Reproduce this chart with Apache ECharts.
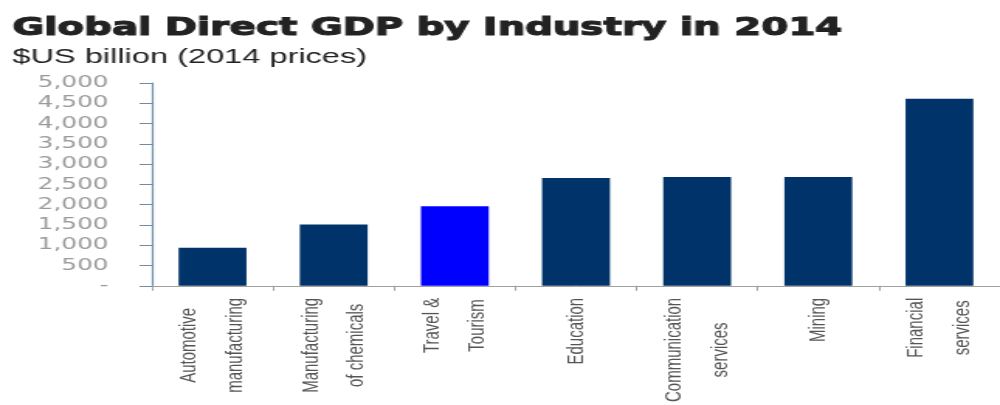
<!DOCTYPE html>
<html>
<head>
<meta charset="utf-8">
<script src="https://cdn.jsdelivr.net/npm/echarts@6/dist/echarts.min.js"></script>
<style>
  html, body { margin: 0; padding: 0; background: #fff; overflow: hidden; }
  #wrap { width: 1000px; height: 405px; overflow: hidden; }
  /* the chart is laid out narrow and widened horizontally */
  #chart { width: 645px; height: 405px; transform: scaleX(1.5504); transform-origin: 0 0; }
</style>
</head>
<body>
<div id="wrap"><div id="chart"></div></div>
<script>
// Global direct GDP by industry, 2014 ($US billion, 2014 prices)
const categories = [
  'Automotive\nmanufacturing',
  'Manufacturing\nof chemicals',
  'Travel &\nTourism',
  'Education',
  'Communication\nservices',
  'Mining',
  'Financial\nservices'
];
const gdpValues = [940, 1510, 1960, 2660, 2680, 2680, 4610];
const highlightCategory = 'Travel &\nTourism';
const yTicks = { min: 0, max: 5000, interval: 500 };

const NAVY = '#00336a';
const BLUE = '#0000ff';

const chart = echarts.init(document.getElementById('chart'));

chart.setOption({
  animation: false,
  title: [
    {
      text: 'Global Direct GDP by Industry in 2014',
      left: 8, top: 16, padding: 0,
      textStyle: {
        fontFamily: 'DejaVu Sans', fontWeight: 'bold', fontSize: 25, color: '#222',
        textBorderColor: '#222', textBorderWidth: 1.1
      }
    },
    {
      text: '$US billion (2014 prices)',
      left: 8, top: 47, padding: 0,
      textStyle: { fontFamily: 'Liberation Sans', fontWeight: 'normal', fontSize: 21, color: '#222' }
    }
  ],
  grid: { left: 98, right: -2, top: 83, bottom: 117, containLabel: false },
  xAxis: {
    type: 'category',
    data: categories,
    axisLine: { lineStyle: { color: '#a0a0a0', width: 1 } },
    axisTick: { show: true, length: 5, lineStyle: { color: '#a0a0a0' } },
    axisLabel: {
      rotate: 90,
      margin: 12,
      interval: 0,
      formatter: v => v.split('\n').map(s => '{c|' + s + '}').join('\n'),
      rich: {
        c: { align: 'center', fontFamily: 'Liberation Sans', fontSize: 15, lineHeight: 29.5, color: '#555' }
      }
    }
  },
  yAxis: {
    type: 'value',
    min: yTicks.min, max: yTicks.max, interval: yTicks.interval,
    splitLine: { show: false },
    axisLine: { show: true, lineStyle: { color: '#6f8ca6', width: 1.2 } },
    axisTick: { show: true, length: 8, lineStyle: { color: '#6f8ca6' } },
    axisLabel: {
      margin: 28,
      fontFamily: 'DejaVu Sans', fontSize: 16, color: '#9a9a9a',
      formatter: v => v === 0 ? '-' : v.toLocaleString('en-US')
    }
  },
  series: [{
    type: 'bar',
    barWidth: '56%',
    data: gdpValues.map((v, i) => ({
      value: v,
      itemStyle: { color: categories[i] === highlightCategory ? BLUE : NAVY }
    }))
  }]
});
</script>
</body>
</html>
